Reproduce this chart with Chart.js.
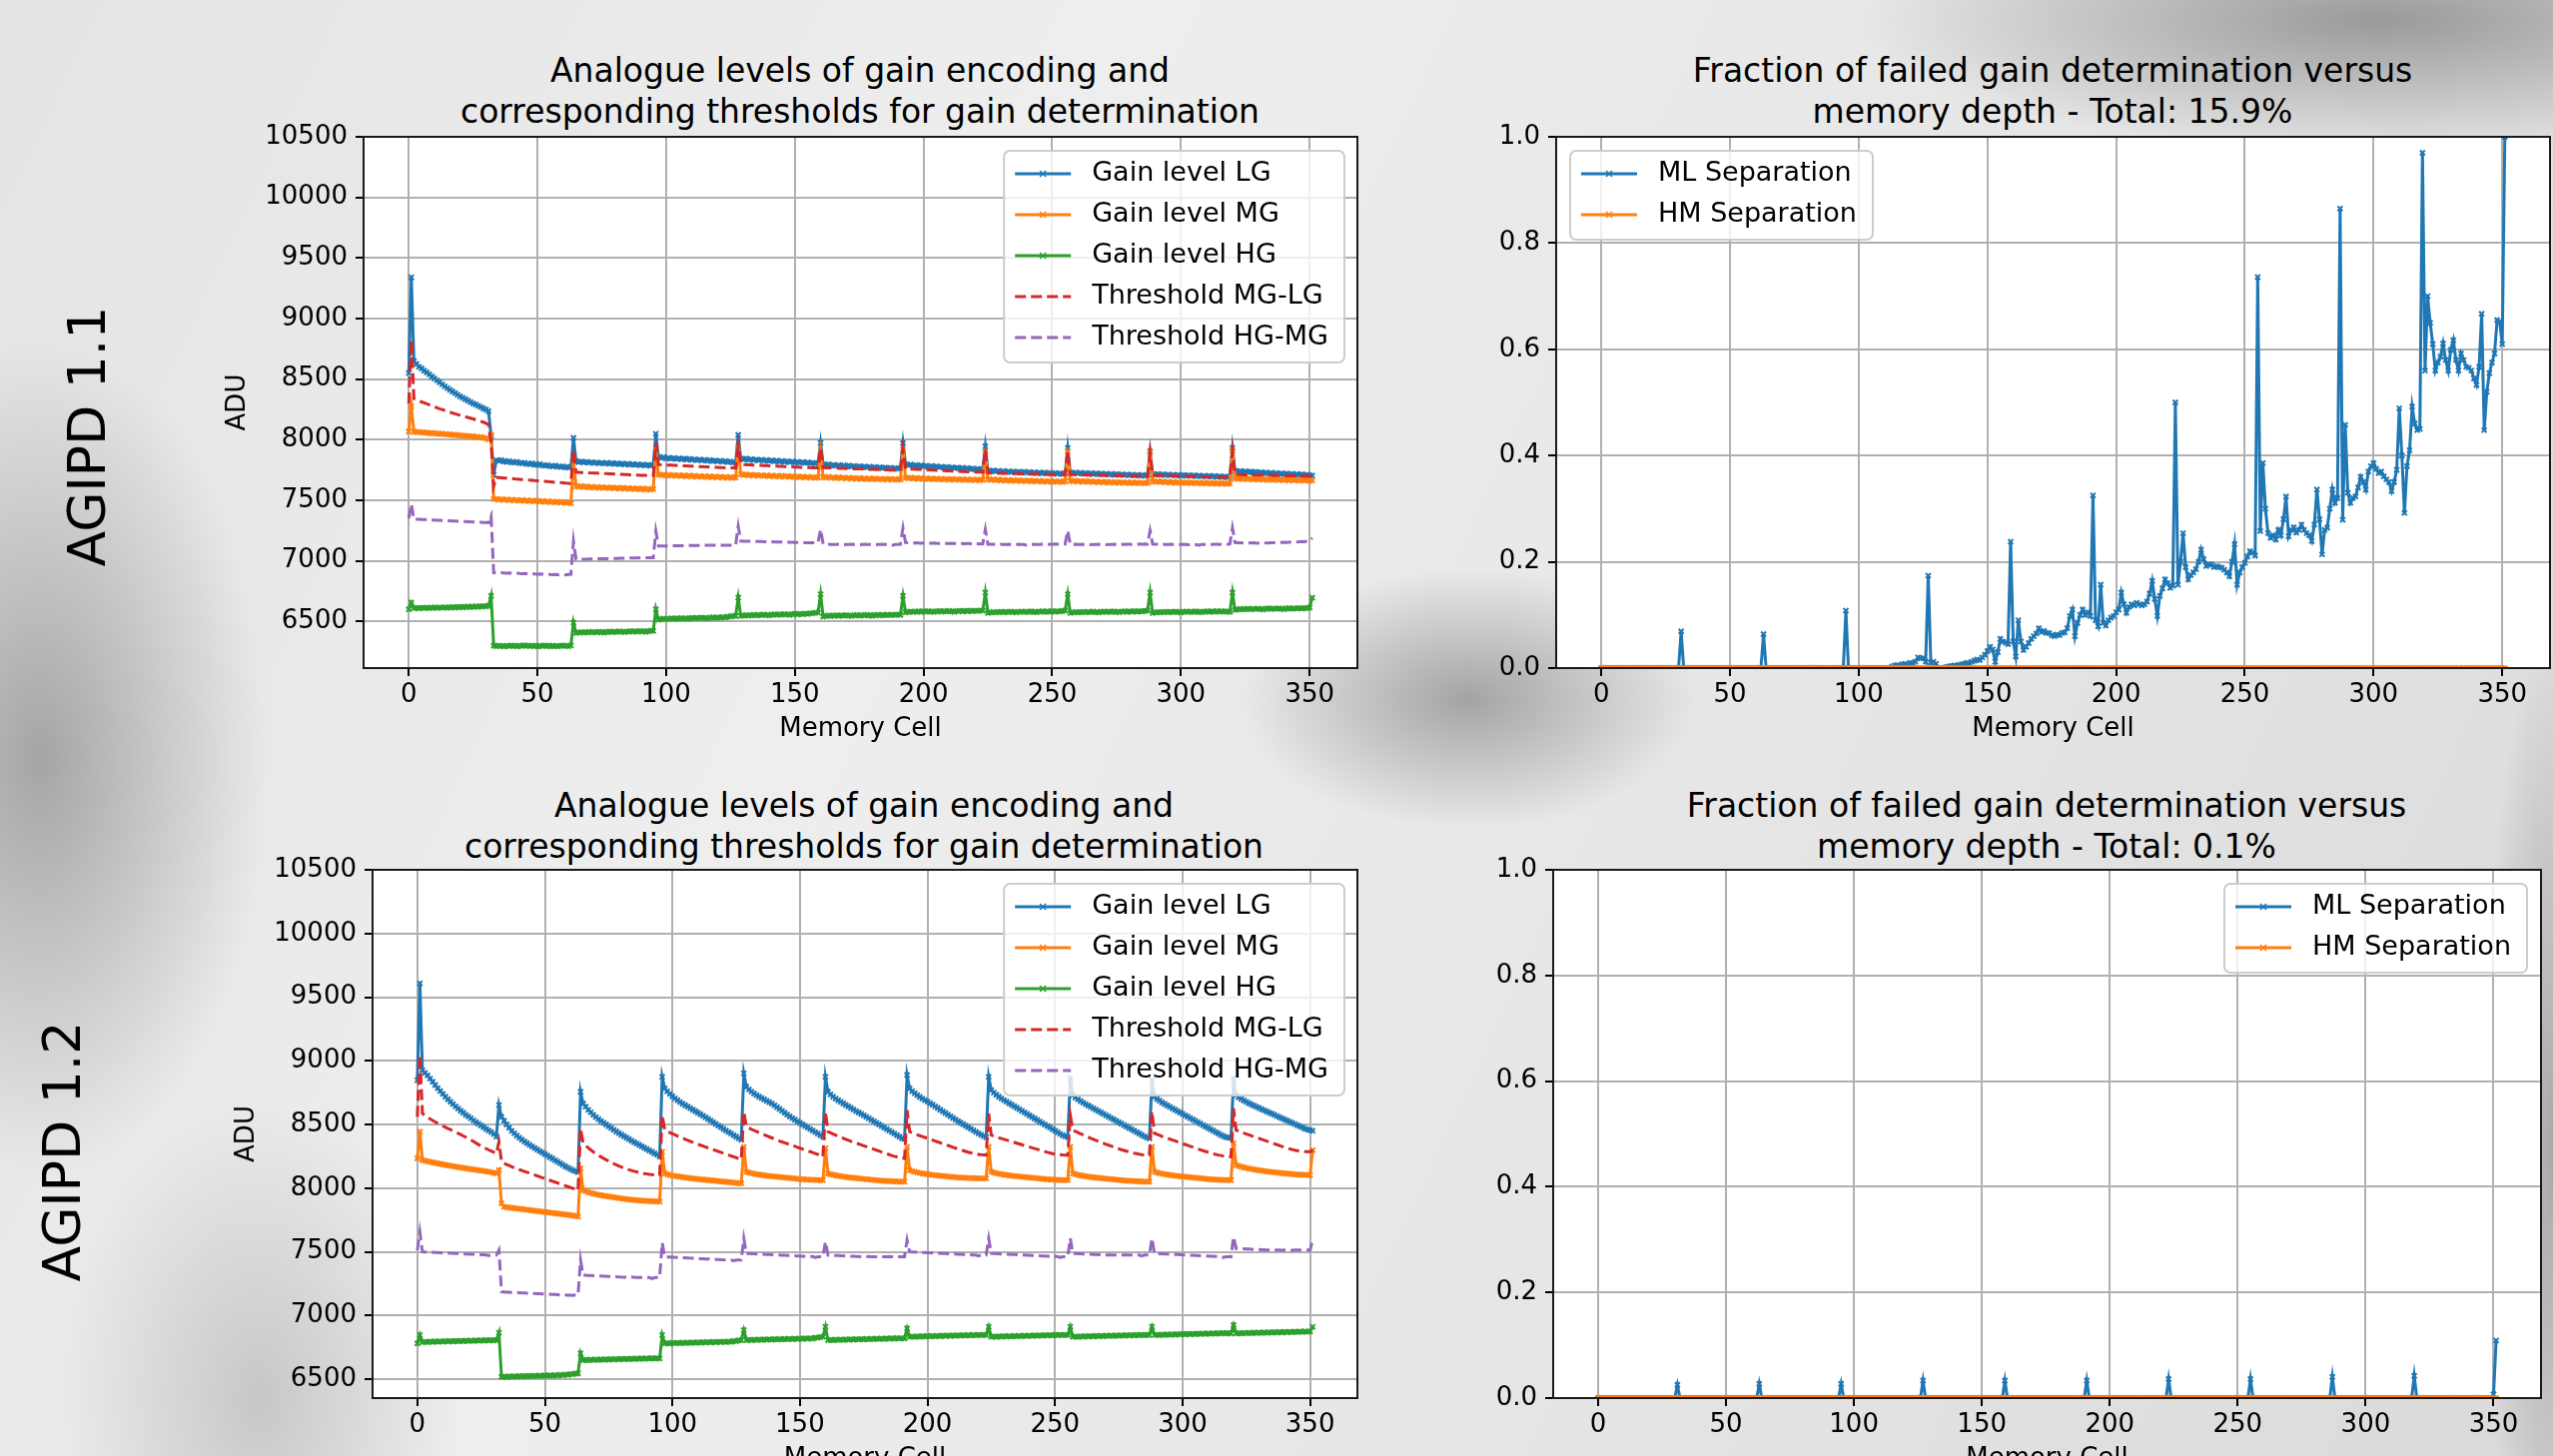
<!DOCTYPE html>
<html>
<head>
<meta charset="utf-8">
<script src="https://cdn.jsdelivr.net/npm/chart.js@4.4.1/dist/chart.umd.min.js"></script>
<style>
  html, body { margin: 0; padding: 0; }
  body {
    width: 2556px; height: 1458px; overflow: hidden; position: relative;
    font-family: "DejaVu Sans", "Noto Sans", sans-serif; color: #000;
    background:
      radial-gradient(ellipse 230px 420px at 40px 760px, rgba(110,110,110,0.55), rgba(110,110,110,0) 100%),
      radial-gradient(ellipse 520px 130px at 2380px 20px, rgba(105,105,105,0.6), rgba(105,105,105,0) 100%),
      radial-gradient(ellipse 230px 130px at 1470px 700px, rgba(95,95,95,0.5), rgba(95,95,95,0) 100%),
      radial-gradient(ellipse 70px 520px at 2556px 1150px, rgba(120,120,120,0.5), rgba(120,120,120,0) 100%),
      radial-gradient(ellipse 200px 300px at 260px 1400px, rgba(130,130,130,0.35), rgba(130,130,130,0) 100%),
      linear-gradient(115deg, #e4e4e4 0%, #eeeeee 35%, #e6e6e6 65%, #dadada 100%);
  }
  .title { position: absolute; font-size: 33px; line-height: 41px; text-align: center;
           white-space: nowrap; transform: translateX(-50%); }
  .side { position: absolute; font-size: 52px; line-height: 1; white-space: nowrap;
          transform: translate(-50%, -50%) rotate(-90deg); }
  canvas { position: absolute; }
</style>
</head>
<body>
<div class="title" style="left:861px; top:50px">Analogue levels of gain encoding and<br>corresponding thresholds for gain determination</div>
<div class="title" style="left:2055px; top:50px">Fraction of failed gain determination versus<br>memory depth - Total: 15.9%</div>
<div class="title" style="left:865px; top:786px">Analogue levels of gain encoding and<br>corresponding thresholds for gain determination</div>
<div class="title" style="left:2049px; top:786px">Fraction of failed gain determination versus<br>memory depth - Total: 0.1%</div>
<div class="side" style="left:87px; top:437px">AGIPD 1.1</div>
<div class="side" style="left:62px; top:1153px">AGIPD 1.2</div>

<script>
// memory cell index (x axis)
const memoryCells = Array.from({ length: 352 }, (_, i) => i);
const xTicks = [0, 50, 100, 150, 200, 250, 300, 350];
const aduTicks = [6500, 7000, 7500, 8000, 8500, 9000, 9500, 10000, 10500];
const fracTicks = [0.0, 0.2, 0.4, 0.6, 0.8, 1.0];

// ---- AGIPD 1.1 : analogue levels (ADU), one line per 32 cells ----
const lgTop = [
8550,9340,8650,8625,8602,8588,8570,8556,8540,8522,8506,8490,8474,8457,8441,8426,8412,8399,8385,8371,8357,8346,8335,8322,8311,8300,8290,8280,8270,8259,8248,8236,
8030,7710,7830,7826,7833,7822,7818,7825,7814,7812,7819,7808,7805,7811,7801,7798,7805,7795,7792,7799,7788,7786,7791,7782,7780,7787,7777,7775,7781,7772,7771,7777,
8015,7822,7816,7821,7812,7818,7811,7815,7808,7813,7806,7811,7804,7809,7802,7807,7800,7805,7798,7803,7796,7801,7795,7799,7792,7797,7790,7795,7788,7793,7787,7792,
8050,7856,7850,7858,7846,7852,7844,7849,7841,7847,7838,7845,7836,7842,7834,7839,7831,7837,7829,7834,7826,7832,7824,7829,7821,7827,7819,7824,7816,7821,7813,7810,
8040,7842,7838,7845,7834,7840,7832,7837,7829,7835,7827,7832,7825,7830,7822,7828,7820,7825,7818,7823,7815,7821,7813,7818,7811,7816,7809,7814,7806,7811,7804,7806,
7975,7795,7791,7797,7788,7793,7786,7791,7784,7789,7781,7787,7779,7784,7777,7782,7775,7780,7772,7778,7770,7775,7768,7773,7766,7771,7764,7769,7762,7767,7760,7765,
7973,7795,7790,7796,7786,7792,7784,7789,7781,7786,7778,7784,7775,7781,7773,7778,7770,7776,7768,7773,7765,7771,7763,7768,7760,7766,7758,7763,7755,7761,7753,7756,
7946,7745,7741,7747,7738,7744,7736,7742,7734,7740,7732,7738,7731,7736,7729,7735,7728,7733,7726,7732,7725,7730,7723,7729,7722,7727,7720,7726,7719,7724,7717,7722,
7932,7728,7724,7730,7722,7727,7720,7726,7719,7724,7717,7723,7716,7721,7714,7720,7713,7718,7711,7717,7710,7715,7708,7714,7707,7712,7705,7711,7704,7709,7702,7707,
7904,7716,7712,7718,7710,7715,7708,7714,7707,7712,7705,7711,7704,7709,7702,7708,7701,7706,7699,7705,7698,7703,7696,7702,7695,7700,7693,7699,7692,7697,7690,7695,
7932,7742,7737,7743,7734,7740,7732,7737,7729,7735,7727,7732,7725,7730,7722,7728,7720,7725,7718,7723,7716,7721,7714,7719,7712,7717,7710,7715,7708,7712,7706,7704
];
const mgTop = [
8069,8275,8065,8063,8066,8060,8058,8061,8055,8053,8056,8050,8048,8051,8045,8043,8046,8040,8038,8041,8034,8032,8035,8029,8027,8030,8023,8021,8024,8017,8012,8002,
8041,7510,7512,7505,7510,7503,7508,7501,7506,7499,7504,7497,7502,7495,7500,7493,7498,7491,7496,7489,7494,7487,7492,7485,7490,7483,7488,7481,7486,7479,7484,7475,
7836,7616,7612,7618,7609,7615,7607,7612,7605,7611,7603,7609,7602,7607,7600,7606,7599,7604,7597,7603,7596,7601,7594,7600,7593,7598,7591,7597,7590,7595,7588,7594,
7918,7712,7708,7714,7705,7711,7703,7709,7702,7707,7700,7706,7698,7704,7697,7702,7695,7701,7694,7699,7692,7698,7691,7696,7689,7695,7688,7693,7686,7692,7685,7688,
7932,7714,7709,7715,7706,7712,7704,7710,7703,7708,7701,7707,7699,7705,7698,7703,7696,7702,7695,7700,7693,7699,7692,7697,7690,7696,7689,7694,7687,7693,7686,7688,
7890,7692,7688,7694,7686,7691,7684,7690,7683,7688,7681,7687,7680,7685,7678,7684,7677,7682,7676,7681,7675,7680,7674,7679,7673,7678,7672,7677,7671,7676,7670,7672,
7918,7686,7682,7688,7680,7685,7678,7684,7677,7682,7675,7681,7674,7679,7673,7678,7672,7677,7671,7676,7670,7675,7669,7674,7668,7673,7667,7672,7666,7671,7665,7669,
7904,7672,7668,7674,7666,7671,7664,7670,7663,7668,7661,7667,7660,7665,7659,7664,7658,7663,7657,7662,7656,7661,7655,7660,7654,7659,7653,7658,7652,7657,7651,7656,
7904,7661,7657,7663,7655,7660,7653,7659,7652,7657,7650,7656,7649,7654,7648,7653,7647,7652,7646,7651,7645,7650,7644,7649,7643,7648,7642,7647,7641,7646,7640,7645,
7900,7656,7652,7658,7650,7655,7648,7654,7647,7652,7645,7651,7644,7649,7643,7648,7642,7647,7641,7646,7640,7645,7639,7644,7638,7643,7637,7642,7636,7641,7635,7640,
7910,7682,7678,7684,7676,7681,7674,7680,7673,7678,7671,7677,7670,7675,7669,7674,7668,7673,7667,7672,7666,7671,7665,7670,7664,7669,7663,7668,7662,7667,7661,7665
];
const hgTop = [
6601,6656,6610,6612,6608,6614,6611,6615,6610,6613,6617,6612,6616,6614,6618,6613,6617,6620,6615,6619,6622,6617,6621,6624,6619,6623,6626,6621,6625,6628,6624,6629,
6711,6300,6296,6302,6298,6294,6300,6297,6303,6299,6295,6301,6298,6304,6300,6296,6302,6299,6295,6301,6297,6303,6299,6295,6301,6298,6294,6300,6303,6299,6296,6302,
6492,6405,6410,6413,6408,6412,6415,6410,6414,6411,6416,6413,6409,6415,6418,6413,6417,6414,6419,6416,6412,6418,6421,6416,6420,6417,6422,6419,6415,6421,6424,6423,
6601,6515,6520,6524,6519,6523,6527,6522,6526,6524,6529,6525,6521,6528,6531,6526,6530,6528,6533,6529,6525,6532,6535,6530,6534,6532,6537,6533,6540,6542,6545,6547,
6697,6545,6550,6553,6548,6552,6556,6551,6555,6553,6558,6554,6550,6557,6560,6555,6559,6557,6562,6558,6554,6561,6564,6559,6563,6561,6566,6562,6568,6570,6572,6574,
6725,6540,6547,6550,6545,6549,6552,6547,6551,6549,6553,6549,6545,6552,6554,6549,6553,6551,6555,6551,6547,6554,6556,6551,6555,6553,6557,6553,6556,6555,6558,6555,
6711,6575,6580,6583,6578,6582,6585,6580,6584,6582,6586,6582,6578,6585,6587,6582,6586,6584,6588,6584,6580,6587,6589,6584,6588,6586,6590,6586,6589,6588,6591,6590,
6739,6570,6576,6579,6574,6578,6581,6576,6580,6578,6582,6578,6574,6581,6583,6578,6582,6580,6584,6580,6576,6583,6585,6580,6584,6582,6586,6582,6585,6584,6588,6590,
6725,6570,6576,6579,6574,6578,6581,6576,6580,6578,6582,6578,6574,6581,6583,6578,6582,6580,6584,6580,6576,6583,6585,6580,6584,6582,6586,6582,6585,6584,6588,6590,
6739,6570,6576,6579,6574,6578,6581,6576,6580,6578,6582,6578,6574,6581,6583,6578,6582,6580,6584,6580,6576,6583,6585,6580,6584,6582,6586,6582,6585,6584,6582,6580,
6739,6595,6601,6604,6599,6603,6606,6601,6605,6603,6607,6603,6599,6606,6608,6603,6607,6605,6609,6605,6601,6608,6610,6605,6609,6607,6611,6607,6610,6612,6615,6697
];
const thrMgLgTop = [
8300,8820,8340,8330,8322,8312,8305,8296,8288,8280,8272,8264,8256,8249,8242,8235,8228,8221,8214,8208,8202,8196,8190,8184,8178,8172,8166,8160,8152,8145,8136,8125,
7983,7616,7690,7688,7686,7684,7683,7681,7679,7677,7676,7674,7672,7670,7669,7667,7665,7663,7662,7660,7658,7656,7655,7653,7651,7649,7648,7646,7644,7642,7641,7639,
7918,7732,7731,7730,7729,7728,7727,7726,7725,7724,7723,7722,7721,7720,7719,7718,7717,7716,7715,7714,7713,7712,7711,7710,7709,7708,7707,7706,7706,7705,7705,7704,
7973,7795,7794,7793,7792,7791,7790,7789,7788,7787,7786,7785,7784,7783,7782,7781,7780,7779,7778,7777,7776,7775,7774,7773,7772,7771,7770,7769,7769,7768,7768,7767,
7946,7796,7795,7794,7793,7792,7791,7790,7789,7788,7787,7786,7785,7784,7783,7782,7781,7780,7779,7778,7777,7776,7775,7774,7773,7772,7771,7770,7770,7769,7769,7768,
7932,7770,7769,7768,7768,7767,7766,7765,7765,7764,7763,7762,7762,7761,7760,7759,7759,7758,7757,7756,7756,7755,7754,7753,7753,7752,7751,7750,7750,7749,7749,7748,
7930,7760,7759,7758,7757,7756,7755,7754,7753,7752,7751,7750,7749,7748,7747,7746,7745,7744,7743,7742,7741,7740,7739,7738,7737,7736,7735,7734,7734,7733,7733,7732,
7920,7726,7725,7725,7724,7724,7723,7723,7722,7722,7721,7721,7720,7720,7719,7719,7718,7718,7717,7717,7716,7716,7715,7715,7714,7714,7713,7713,7713,7712,7712,7712,
7910,7713,7712,7712,7711,7711,7710,7710,7709,7709,7708,7708,7707,7707,7706,7706,7705,7705,7704,7704,7703,7703,7702,7702,7701,7701,7700,7700,7700,7699,7699,7699,
7890,7706,7705,7705,7704,7704,7703,7703,7702,7702,7701,7701,7700,7700,7699,7699,7698,7698,7697,7697,7696,7696,7695,7695,7694,7694,7693,7693,7693,7692,7692,7692,
7905,7713,7712,7712,7711,7711,7710,7710,7709,7709,7708,7708,7707,7707,7706,7706,7705,7705,7704,7704,7703,7703,7702,7702,7701,7701,7700,7700,7700,7699,7699,7699
];
const thrHgMgTop = [
7350,7470,7345,7344,7343,7342,7341,7340,7339,7338,7337,7336,7335,7334,7333,7332,7331,7330,7329,7328,7327,7326,7325,7324,7323,7322,7321,7320,7319,7318,7317,7315,
7370,6903,6902,6901,6903,6900,6899,6901,6898,6897,6899,6896,6895,6897,6894,6893,6895,6892,6891,6893,6890,6889,6891,6888,6887,6889,6886,6885,6887,6884,6888,6890,
7164,7013,7014,7014,7015,7015,7016,7016,7017,7017,7018,7018,7019,7019,7020,7020,7021,7021,7022,7022,7023,7023,7024,7024,7025,7025,7026,7026,7027,7027,7027,7027,
7246,7123,7123,7124,7124,7124,7125,7125,7125,7126,7126,7126,7127,7127,7127,7128,7128,7128,7129,7129,7129,7130,7130,7130,7130,7130,7130,7130,7130,7130,7130,7130,
7287,7164,7163,7163,7162,7162,7161,7161,7160,7160,7159,7159,7158,7158,7157,7157,7156,7156,7155,7155,7154,7154,7153,7153,7152,7152,7151,7151,7150,7150,7150,7150,
7260,7140,7138,7137,7136,7135,7136,7137,7136,7134,7135,7136,7137,7136,7135,7134,7136,7137,7136,7135,7136,7134,7135,7136,7137,7136,7135,7136,7130,7135,7136,7137,
7273,7152,7150,7149,7148,7150,7149,7147,7148,7149,7146,7147,7148,7146,7145,7147,7146,7144,7145,7146,7144,7143,7145,7144,7142,7143,7144,7135,7142,7141,7140,7142,
7260,7138,7137,7138,7136,7137,7138,7136,7135,7137,7136,7134,7135,7137,7136,7135,7130,7134,7136,7137,7136,7135,7137,7138,7136,7137,7138,7139,7138,7140,7139,7140,
7250,7138,7136,7137,7135,7136,7137,7135,7136,7134,7135,7136,7137,7135,7136,7134,7135,7136,7137,7136,7135,7137,7136,7138,7137,7136,7138,7137,7139,7138,7140,7139,
7250,7139,7137,7138,7136,7137,7135,7136,7137,7135,7134,7136,7135,7137,7136,7134,7135,7136,7134,7130,7135,7136,7137,7135,7136,7138,7137,7136,7138,7139,7138,7140,
7273,7152,7150,7151,7149,7150,7148,7149,7150,7148,7147,7149,7150,7148,7149,7151,7150,7152,7151,7153,7154,7152,7155,7156,7155,7157,7158,7160,7159,7162,7164,7190
];

// ---- AGIPD 1.2 : analogue levels (ADU) ----
const lgBot = [
8848,9608,8925,8905,8885,8860,8835,8810,8785,8762,8740,8718,8698,8678,8660,8642,8625,8608,8592,8576,8562,8548,8532,8518,8505,8492,8478,8465,8452,8440,8425,8405,
8652,8560,8530,8500,8474,8450,8430,8412,8395,8380,8366,8353,8340,8327,8315,8303,8291,8279,8267,8255,8243,8231,8219,8207,8195,8183,8171,8160,8150,8140,8132,8125,
8757,8665,8640,8615,8595,8576,8558,8542,8527,8513,8500,8486,8472,8458,8445,8432,8420,8408,8396,8384,8372,8361,8350,8339,8328,8317,8306,8295,8284,8273,8262,8250,
8874,8783,8760,8740,8722,8705,8690,8676,8663,8651,8640,8628,8616,8604,8592,8580,8568,8556,8543,8530,8517,8504,8491,8478,8465,8452,8440,8428,8416,8404,8392,8380,
8901,8796,8775,8758,8743,8730,8718,8707,8696,8685,8675,8664,8650,8636,8622,8607,8592,8577,8563,8550,8537,8524,8512,8500,8488,8476,8464,8452,8440,8428,8416,8404,
8874,8757,8735,8718,8703,8690,8677,8665,8653,8641,8629,8617,8605,8594,8583,8572,8560,8548,8536,8524,8512,8500,8488,8476,8464,8452,8440,8428,8416,8404,8392,8385,
8888,8783,8762,8745,8730,8716,8703,8691,8679,8667,8655,8642,8629,8616,8603,8590,8577,8564,8551,8538,8526,8514,8502,8490,8478,8466,8454,8442,8430,8419,8409,8400,
8874,8770,8750,8733,8718,8704,8691,8679,8667,8655,8643,8631,8619,8607,8595,8583,8571,8559,8547,8535,8523,8511,8499,8487,8475,8463,8451,8439,8427,8416,8407,8400,
8861,8730,8712,8697,8684,8672,8660,8649,8638,8627,8616,8605,8594,8583,8572,8561,8550,8539,8528,8517,8506,8495,8484,8473,8462,8451,8440,8429,8418,8407,8397,8390,
8848,8717,8700,8686,8673,8661,8649,8638,8627,8616,8605,8594,8583,8572,8561,8550,8539,8528,8517,8506,8495,8484,8473,8462,8451,8440,8429,8418,8408,8400,8396,8395,
8861,8730,8714,8700,8688,8677,8667,8657,8647,8638,8629,8620,8611,8602,8593,8584,8575,8566,8557,8548,8539,8530,8521,8512,8503,8494,8485,8476,8467,8460,8455,8450
];
const mgBot = [
8233,8443,8220,8215,8210,8206,8202,8198,8194,8190,8186,8182,8178,8175,8172,8168,8165,8162,8158,8155,8152,8149,8146,8143,8140,8137,8134,8131,8128,8124,8120,8115,
8141,7880,7853,7850,7847,7845,7842,7840,7837,7835,7832,7830,7827,7825,7822,7820,7817,7815,7812,7810,7807,7805,7802,7800,7797,7795,7792,7790,7787,7784,7780,7775,
8155,7984,7975,7968,7962,7957,7952,7948,7944,7940,7937,7934,7931,7928,7925,7922,7919,7916,7913,7911,7909,7907,7905,7903,7901,7900,7899,7898,7897,7896,7895,7893,
8285,8115,8108,8103,8099,8095,8092,8089,8086,8083,8080,8077,8075,8073,8071,8069,8067,8065,8063,8061,8059,8057,8055,8053,8051,8049,8047,8045,8043,8041,8039,8037,
8325,8128,8122,8117,8113,8109,8106,8103,8100,8097,8095,8093,8091,8089,8087,8085,8083,8081,8079,8077,8075,8073,8071,8069,8068,8067,8066,8065,8064,8063,8063,8063,
8312,8115,8109,8104,8100,8096,8093,8090,8087,8084,8082,8080,8078,8076,8074,8072,8070,8068,8066,8064,8062,8060,8058,8057,8056,8055,8054,8053,8052,8051,8050,8050,
8325,8141,8134,8128,8123,8119,8115,8112,8109,8106,8103,8101,8099,8097,8095,8093,8091,8089,8087,8085,8083,8082,8081,8080,8079,8078,8078,8077,8077,8076,8076,8076,
8325,8128,8122,8117,8113,8109,8106,8103,8100,8097,8095,8093,8091,8089,8087,8085,8083,8081,8079,8077,8075,8073,8071,8069,8068,8067,8066,8065,8064,8063,8063,8063,
8325,8115,8109,8104,8100,8096,8093,8090,8087,8084,8082,8080,8078,8076,8074,8072,8070,8068,8066,8064,8062,8060,8058,8057,8056,8055,8054,8053,8052,8051,8050,8050,
8325,8128,8122,8117,8113,8109,8106,8103,8100,8097,8095,8093,8091,8089,8087,8085,8083,8081,8079,8077,8075,8073,8071,8069,8068,8067,8066,8065,8064,8063,8063,8063,
8351,8181,8174,8168,8163,8158,8154,8150,8146,8143,8140,8137,8134,8131,8128,8126,8124,8122,8120,8118,8116,8114,8112,8110,8108,8107,8106,8105,8104,8103,8102,8298
];
const hgBot = [
6780,6846,6790,6793,6790,6795,6792,6796,6793,6797,6794,6798,6795,6799,6796,6800,6797,6801,6798,6802,6799,6803,6800,6804,6801,6805,6802,6806,6803,6807,6804,6806,
6864,6518,6520,6516,6522,6519,6523,6520,6524,6521,6525,6522,6526,6523,6527,6524,6528,6525,6529,6526,6530,6527,6531,6528,6533,6530,6536,6533,6540,6538,6543,6545,
6702,6649,6651,6648,6653,6650,6654,6651,6655,6652,6656,6653,6657,6654,6658,6655,6659,6656,6660,6657,6661,6658,6662,6659,6663,6660,6664,6661,6665,6662,6663,6662,
6846,6780,6782,6779,6784,6781,6785,6782,6786,6783,6787,6784,6788,6785,6789,6786,6790,6787,6791,6788,6792,6789,6793,6790,6794,6791,6795,6792,6800,6798,6804,6806,
6885,6806,6808,6805,6810,6807,6811,6808,6812,6809,6813,6810,6814,6811,6815,6812,6816,6813,6817,6814,6818,6815,6819,6816,6820,6817,6821,6818,6826,6824,6830,6832,
6911,6806,6808,6805,6810,6807,6811,6808,6812,6809,6813,6810,6814,6811,6815,6812,6816,6813,6817,6814,6818,6815,6819,6816,6820,6817,6821,6818,6822,6819,6821,6820,
6898,6832,6834,6831,6836,6833,6837,6834,6838,6835,6839,6836,6840,6837,6841,6838,6842,6839,6843,6840,6844,6841,6845,6842,6846,6843,6847,6844,6848,6845,6847,6846,
6911,6832,6834,6831,6836,6833,6837,6834,6838,6835,6839,6836,6840,6837,6841,6838,6842,6839,6843,6840,6844,6841,6845,6842,6846,6843,6847,6844,6848,6845,6847,6846,
6911,6832,6834,6831,6836,6833,6837,6834,6838,6835,6839,6836,6840,6837,6841,6838,6842,6839,6843,6840,6844,6841,6845,6842,6846,6843,6847,6844,6848,6845,6847,6846,
6911,6846,6848,6845,6850,6847,6851,6848,6852,6849,6853,6850,6854,6851,6855,6852,6856,6853,6857,6854,6858,6855,6859,6856,6860,6857,6861,6858,6862,6859,6861,6859,
6924,6859,6861,6858,6863,6860,6864,6861,6865,6862,6866,6863,6867,6864,6868,6865,6869,6866,6870,6867,6871,6868,6872,6869,6873,6870,6874,6871,6875,6872,6874,6911
];
const thrMgLgBot = [
8560,9045,8586,8570,8556,8543,8531,8520,8509,8498,8488,8478,8468,8459,8450,8441,8430,8420,8410,8400,8390,8378,8366,8354,8342,8331,8320,8310,8300,8291,8282,8272,
8364,8207,8196,8186,8177,8168,8160,8152,8145,8138,8131,8124,8117,8110,8103,8096,8089,8082,8075,8068,8061,8054,8047,8040,8033,8026,8019,8012,8005,7998,7991,7984,
8469,8351,8333,8316,8300,8285,8271,8258,8246,8234,8223,8212,8202,8192,8183,8174,8166,8158,8151,8144,8138,8132,8127,8122,8118,8114,8111,8108,8106,8104,8103,8102,
8573,8456,8446,8436,8427,8418,8409,8400,8392,8384,8376,8368,8360,8352,8344,8337,8330,8323,8316,8309,8302,8295,8288,8281,8274,8267,8260,8253,8246,8239,8232,8225,
8600,8482,8472,8462,8453,8444,8435,8426,8418,8410,8402,8394,8386,8378,8370,8363,8356,8349,8342,8335,8328,8321,8314,8307,8300,8293,8286,8279,8272,8265,8256,8246,
8600,8443,8434,8425,8416,8408,8400,8392,8384,8376,8368,8361,8354,8347,8340,8333,8326,8319,8312,8305,8298,8291,8284,8277,8270,8263,8256,8250,8245,8240,8236,8233,
8613,8443,8435,8427,8419,8412,8405,8398,8391,8384,8377,8370,8363,8356,8349,8342,8335,8328,8321,8314,8307,8300,8294,8288,8282,8277,8272,8268,8265,8262,8260,8259,
8586,8416,8409,8402,8395,8389,8383,8377,8371,8365,8359,8353,8347,8341,8335,8329,8323,8317,8311,8305,8299,8293,8287,8281,8276,8271,8267,8264,8262,8260,8259,8259,
8573,8456,8446,8436,8427,8418,8409,8400,8392,8384,8376,8368,8360,8352,8344,8337,8330,8323,8316,8309,8302,8296,8290,8284,8279,8274,8270,8266,8263,8261,8260,8259,
8600,8430,8422,8414,8406,8399,8392,8385,8378,8371,8364,8357,8350,8343,8336,8329,8322,8315,8308,8301,8294,8288,8282,8276,8270,8265,8260,8256,8252,8249,8247,8246,
8626,8456,8448,8440,8432,8425,8418,8411,8404,8397,8390,8383,8376,8369,8362,8355,8348,8341,8334,8327,8320,8314,8308,8303,8298,8294,8291,8289,8287,8286,8285,8300
];
const thrHgMgBot = [
7513,7657,7500,7499,7498,7497,7496,7495,7494,7493,7492,7491,7490,7489,7488,7487,7486,7485,7484,7483,7482,7481,7480,7479,7478,7477,7476,7475,7470,7474,7474,7474,
7513,7186,7184,7182,7183,7181,7179,7180,7178,7176,7177,7175,7173,7174,7172,7170,7171,7169,7167,7168,7166,7164,7165,7163,7161,7162,7160,7158,7159,7157,7160,7160,
7435,7317,7315,7314,7313,7312,7311,7310,7309,7308,7307,7306,7305,7304,7303,7302,7301,7300,7299,7300,7301,7300,7299,7298,7299,7300,7299,7298,7290,7297,7298,7298,
7571,7461,7459,7458,7457,7456,7455,7454,7453,7452,7451,7450,7449,7448,7447,7446,7445,7444,7443,7442,7441,7440,7439,7438,7437,7436,7435,7435,7430,7435,7435,7435,
7605,7487,7486,7485,7484,7483,7482,7481,7480,7479,7478,7477,7476,7475,7474,7473,7472,7471,7470,7469,7468,7467,7466,7465,7464,7463,7462,7462,7455,7461,7461,7461,
7579,7474,7473,7472,7471,7470,7469,7468,7467,7466,7465,7464,7463,7462,7461,7462,7463,7462,7461,7460,7461,7462,7461,7460,7461,7462,7461,7460,7455,7460,7461,7461,
7592,7500,7499,7498,7497,7496,7495,7494,7493,7492,7491,7490,7489,7488,7487,7486,7485,7484,7483,7482,7481,7480,7479,7478,7477,7476,7475,7474,7468,7474,7474,7474,
7605,7487,7486,7485,7484,7483,7482,7481,7480,7479,7478,7477,7476,7475,7474,7473,7472,7471,7470,7469,7468,7467,7466,7465,7464,7463,7462,7462,7455,7461,7461,7461,
7605,7487,7486,7485,7484,7483,7482,7481,7480,7479,7478,7477,7476,7476,7475,7475,7474,7474,7474,7474,7474,7474,7474,7474,7474,7474,7474,7474,7468,7474,7474,7474,
7605,7487,7486,7485,7484,7483,7482,7481,7480,7479,7478,7477,7476,7475,7474,7473,7472,7471,7470,7469,7468,7467,7466,7465,7464,7463,7462,7462,7455,7461,7461,7461,
7618,7526,7525,7524,7523,7522,7521,7520,7519,7518,7517,7516,7515,7514,7513,7512,7513,7514,7513,7512,7513,7514,7513,7512,7513,7514,7513,7512,7513,7514,7513,7592
];

// ---- fraction of failed gain determination ----
const mlSepTop = [
0,0,0,0,0,0,0,0, 0,0,0,0,0,0,0,0, 0,0,0,0,0,0,0,0, 0,0,0,0,0,0,0, 0.069,
0,0,0,0,0,0,0,0, 0,0,0,0,0,0,0,0, 0,0,0,0,0,0,0,0, 0,0,0,0,0,0,0, 0.064,
0,0,0,0,0,0,0,0, 0,0,0,0,0,0,0,0, 0,0,0,0,0,0,0,0, 0,0,0,0,0,0,0, 0.108,
0,0,0,0,0,0,0,0, 0,0,0,0,0,0,0,0, 0, 0.003,0.005,0.006,0.004,0.007,0.008,0.006,0.01,0.009,0.012,0.02,0.018,0.019,0.012,0.174,
0.01,0.012,0.008,0,0,0,0.002,0.003,0.004,0.005,0.004,0.006,0.007,0.008,0.01,0.009,0.012,0.014,0.016,0.015,0.02,0.025,0.032,0.04,0.035,0.012,0.03,0.055,0.05,0.048,0.045,0.238,
0.05,0.022,0.09,0.05,0.034,0.04,0.047,0.055,0.06,0.065,0.075,0.068,0.07,0.066,0.066,0.062,0.06,0.063,0.062,0.066,0.067,0.075,0.098,0.11,0.06,0.085,0.1,0.11,0.1,0.105,0.098,0.325,
0.09,0.079,0.157,0.085,0.08,0.09,0.095,0.098,0.105,0.11,0.142,0.12,0.104,0.115,0.12,0.118,0.123,0.12,0.118,0.12,0.125,0.14,0.164,0.13,0.098,0.136,0.15,0.167,0.16,0.151,0.155,0.5,
0.157,0.2,0.254,0.19,0.167,0.175,0.18,0.186,0.2,0.223,0.205,0.192,0.195,0.195,0.19,0.192,0.19,0.189,0.185,0.18,0.173,0.2,0.233,0.157,0.18,0.19,0.198,0.21,0.22,0.217,0.212,0.736,
0.258,0.386,0.3,0.254,0.245,0.25,0.242,0.26,0.25,0.28,0.323,0.248,0.26,0.265,0.255,0.26,0.27,0.26,0.254,0.25,0.239,0.27,0.336,0.28,0.214,0.26,0.264,0.3,0.336,0.311,0.32,0.865,
0.279,0.458,0.33,0.311,0.32,0.323,0.34,0.36,0.35,0.336,0.37,0.38,0.386,0.375,0.367,0.37,0.361,0.355,0.35,0.333,0.35,0.373,0.489,0.4,0.292,0.38,0.41,0.492,0.46,0.448,0.45,0.97,
0.56,0.7,0.65,0.61,0.56,0.575,0.586,0.611,0.58,0.56,0.599,0.617,0.58,0.56,0.592,0.58,0.567,0.565,0.56,0.545,0.533,0.567,0.667,0.448,0.52,0.555,0.575,0.592,0.655,0.652,0.61,1.0
];
const hmSepTop = [
0,0,0,0,0,0,0,0, 0,0,0,0,0,0,0,0, 0,0,0,0,0,0,0,0, 0,0,0,0,0,0,0,0,
0,0,0,0,0,0,0,0, 0,0,0,0,0,0,0,0, 0,0,0,0,0,0,0,0, 0,0,0,0,0,0,0,0,
0,0,0,0,0,0,0,0, 0,0,0,0,0,0,0,0, 0,0,0,0,0,0,0,0, 0,0,0,0,0,0,0,0,
0,0,0,0,0,0,0,0, 0,0,0,0,0,0,0,0, 0,0,0,0,0,0,0,0, 0,0,0,0,0,0,0,0,
0,0,0,0,0,0,0,0, 0,0,0,0,0,0,0,0, 0,0,0,0,0,0,0,0, 0,0,0,0,0,0,0,0,
0,0,0,0,0,0,0,0, 0,0,0,0,0,0,0,0, 0,0,0,0,0,0,0,0, 0,0,0,0,0,0,0,0,
0,0,0,0,0,0,0,0, 0,0,0,0,0,0,0,0, 0,0,0,0,0,0,0,0, 0,0,0,0,0,0,0,0,
0,0,0,0,0,0,0,0, 0,0,0,0,0,0,0,0, 0,0,0,0,0,0,0,0, 0,0,0,0,0,0,0,0,
0,0,0,0,0,0,0,0, 0,0,0,0,0,0,0,0, 0,0,0,0,0,0,0,0, 0,0,0,0,0,0,0,0,
0,0,0,0,0,0,0,0, 0,0,0,0,0,0,0,0, 0,0,0,0,0,0,0,0, 0,0,0,0,0,0,0,0,
0,0,0,0,0,0,0,0, 0,0,0,0,0,0,0,0, 0,0,0,0,0,0,0,0, 0,0,0,0,0,0,0,0
];
const mlSepBot = [
0,0,0,0,0,0,0,0, 0,0,0,0,0,0,0,0, 0,0,0,0,0,0,0,0, 0,0,0,0,0,0,0, 0.025,
0,0,0,0,0,0,0,0, 0,0,0,0,0,0,0,0, 0,0,0,0,0,0,0,0, 0,0,0,0,0,0,0, 0.027,
0,0,0,0,0,0,0,0, 0,0,0,0,0,0,0,0, 0,0,0,0,0,0,0,0, 0,0,0,0,0,0,0, 0.027,
0,0,0,0,0,0,0,0, 0,0,0,0,0,0,0,0, 0,0,0,0,0,0,0,0, 0,0,0,0,0,0,0, 0.033,
0,0,0,0,0,0,0,0, 0,0,0,0,0,0,0,0, 0,0,0,0,0,0,0,0, 0,0,0,0,0,0,0, 0.033,
0,0,0,0,0,0,0,0, 0,0,0,0,0,0,0,0, 0,0,0,0,0,0,0,0, 0,0,0,0,0,0,0, 0.033,
0,0,0,0,0,0,0,0, 0,0,0,0,0,0,0,0, 0,0,0,0,0,0,0,0, 0,0,0,0,0,0,0, 0.036,
0,0,0,0,0,0,0,0, 0,0,0,0,0,0,0,0, 0,0,0,0,0,0,0,0, 0,0,0,0,0,0,0, 0.036,
0,0,0,0,0,0,0,0, 0,0,0,0,0,0,0,0, 0,0,0,0,0,0,0,0, 0,0,0,0,0,0,0, 0.04,
0,0,0,0,0,0,0,0, 0,0,0,0,0,0,0,0, 0,0,0,0,0,0,0,0, 0,0,0,0,0,0,0, 0.042,
0,0,0,0,0,0,0,0, 0,0,0,0,0,0,0,0, 0,0,0,0,0,0,0,0, 0,0,0,0,0,0, 0.007,0.109
];
const hmSepBot = [
0,0,0,0,0,0,0,0, 0,0,0,0,0,0,0,0, 0,0,0,0,0,0,0,0, 0,0,0,0,0,0,0,0,
0,0,0,0,0,0,0,0, 0,0,0,0,0,0,0,0, 0,0,0,0,0,0,0,0, 0,0,0,0,0,0,0,0,
0,0,0,0,0,0,0,0, 0,0,0,0,0,0,0,0, 0,0,0,0,0,0,0,0, 0,0,0,0,0,0,0,0,
0,0,0,0,0,0,0,0, 0,0,0,0,0,0,0,0, 0,0,0,0,0,0,0,0, 0,0,0,0,0,0,0,0,
0,0,0,0,0,0,0,0, 0,0,0,0,0,0,0,0, 0,0,0,0,0,0,0,0, 0,0,0,0,0,0,0,0,
0,0,0,0,0,0,0,0, 0,0,0,0,0,0,0,0, 0,0,0,0,0,0,0,0, 0,0,0,0,0,0,0,0,
0,0,0,0,0,0,0,0, 0,0,0,0,0,0,0,0, 0,0,0,0,0,0,0,0, 0,0,0,0,0,0,0,0,
0,0,0,0,0,0,0,0, 0,0,0,0,0,0,0,0, 0,0,0,0,0,0,0,0, 0,0,0,0,0,0,0,0,
0,0,0,0,0,0,0,0, 0,0,0,0,0,0,0,0, 0,0,0,0,0,0,0,0, 0,0,0,0,0,0,0,0,
0,0,0,0,0,0,0,0, 0,0,0,0,0,0,0,0, 0,0,0,0,0,0,0,0, 0,0,0,0,0,0,0,0,
0,0,0,0,0,0,0,0, 0,0,0,0,0,0,0,0, 0,0,0,0,0,0,0,0, 0,0,0,0,0,0,0,0
];

const FONT = '"DejaVu Sans", "Noto Sans", sans-serif';
const C = { blue: '#1f77b4', orange: '#ff7f0e', green: '#2ca02c', red: '#d62728', purple: '#9467bd' };

function series(label, color, values, dashed) {
  return {
    label,
    data: values.map((v, i) => ({ x: memoryCells[i], y: v })),
    borderColor: color,
    backgroundColor: color,
    borderWidth: 3,
    borderDash: dashed ? [11, 5] : [],
    pointStyle: 'crossRot',
    pointRadius: dashed ? 0 : 3.5,
    pointBorderWidth: 2,
    pointBorderColor: color,
    pointBackgroundColor: color,
    pointHoverRadius: 0,
    tension: 0,
    fill: false
  };
}

// white axes background
const axesBg = {
  id: 'axesBg',
  beforeDraw(chart) {
    const { ctx, chartArea: a } = chart;
    ctx.save();
    ctx.fillStyle = '#ffffff';
    ctx.fillRect(a.left, a.top, a.right - a.left, a.bottom - a.top);
    ctx.restore();
  }
};

// matplotlib-like frame round the axes
const frame = {
  id: 'frame',
  afterDatasetsDraw(chart) {
    const { ctx, chartArea: a } = chart;
    ctx.save();
    ctx.strokeStyle = '#1a1a1a';
    ctx.lineWidth = 2;
    ctx.strokeRect(a.left, a.top, a.right - a.left, a.bottom - a.top);
    ctx.restore();
  }
};

// legend box inside the axes
const legendBox = {
  id: 'legendBox',
  afterDraw(chart, args, opts) {
    const { ctx, chartArea: a } = chart;
    const items = chart.data.datasets;
    ctx.save();
    ctx.font = '27px ' + FONT;
    const textW = Math.max(...items.map(d => ctx.measureText(d.label).width));
    const w = 88 + textW + 16;
    const h = 23 + 41 * (items.length - 1) + 25;
    const x = opts.side === 'left' ? a.left + opts.dx : a.right - opts.dx - w;
    const y = a.top + opts.dy;
    ctx.beginPath();
    ctx.roundRect(x, y, w, h, 6);
    ctx.fillStyle = 'rgba(255,255,255,0.8)';
    ctx.fill();
    ctx.strokeStyle = '#cccccc';
    ctx.lineWidth = 2;
    ctx.stroke();
    items.forEach((d, i) => {
      const cy = y + 23 + 41 * i;
      ctx.strokeStyle = d.borderColor;
      ctx.lineWidth = 3;
      ctx.setLineDash(d.borderDash);
      ctx.beginPath();
      ctx.moveTo(x + 11, cy);
      ctx.lineTo(x + 67, cy);
      ctx.stroke();
      ctx.setLineDash([]);
      if (d.pointRadius > 0) {
        const mx = x + 39, r = 3;
        ctx.lineWidth = 1.5;
        ctx.beginPath();
        ctx.moveTo(mx - r, cy - r); ctx.lineTo(mx + r, cy + r);
        ctx.moveTo(mx - r, cy + r); ctx.lineTo(mx + r, cy - r);
        ctx.stroke();
      }
      ctx.fillStyle = '#000';
      ctx.textBaseline = 'middle';
      ctx.textAlign = 'left';
      ctx.fillText(d.label, x + 88, cy);
    });
    ctx.restore();
  }
};

// axis titles
const axisTitles = {
  id: 'axisTitles',
  afterDraw(chart, args, opts) {
    const { ctx, chartArea: a } = chart;
    ctx.save();
    ctx.fillStyle = '#000';
    ctx.font = '26px ' + FONT;
    ctx.textAlign = 'center';
    ctx.textBaseline = 'middle';
    ctx.fillText(opts.x, (a.left + a.right) / 2, a.bottom + 61);
    if (opts.y) {
      ctx.translate(a.left - 126, (a.top + a.bottom) / 2);
      ctx.rotate(-Math.PI / 2);
      ctx.fillText(opts.y, 0, 0);
    }
    ctx.restore();
  }
};

function makePanel(p) {
  const padTop = 20, padRight = 10, xAxisH = 95;
  const cv = document.createElement('canvas');
  cv.width = p.yAxisW + p.w + padRight;
  cv.height = padTop + p.h + xAxisH;
  cv.style.left = (p.left - p.yAxisW) + 'px';
  cv.style.top = (p.top - padTop) + 'px';
  document.body.appendChild(cv);

  const sets = p.sets;
  sets.forEach((d, i) => { d.order = sets.length - i; });

  const tickFont = { family: FONT, size: 26, lineHeight: 1 };
  const grid = { color: '#b0b0b0', lineWidth: 2, tickColor: '#000', tickWidth: 2, tickLength: 8, drawTicks: true };

  new Chart(cv, {
    type: 'line',
    data: { datasets: sets },
    options: {
      responsive: false,
      animation: false,
      devicePixelRatio: 1,
      layout: { padding: { top: padTop, right: padRight, left: 0, bottom: 0 } },
      plugins: {
        legend: { display: false },
        title: { display: false },
        tooltip: { enabled: false },
        legendBox: { side: p.legendSide, dx: p.legendDx, dy: 14 },
        axisTitles: { x: 'Memory Cell', y: p.yTitle }
      },
      scales: {
        x: {
          type: 'linear', min: -17.55, max: 368.55,
          afterFit: s => { s.height = xAxisH; },
          afterBuildTicks: s => { s.ticks = xTicks.map(v => ({ value: v })); },
          ticks: { font: tickFont, color: '#000', padding: 6, maxRotation: 0, autoSkip: false, callback: v => String(v) },
          grid: grid,
          border: { display: false }
        },
        y: {
          type: 'linear', min: p.yMin, max: p.yMax,
          afterFit: s => { s.width = p.yAxisW; },
          afterBuildTicks: s => { s.ticks = p.yTicks.map(v => ({ value: v })); },
          ticks: { font: tickFont, color: '#000', padding: 8, autoSkip: false, callback: p.yFmt },
          grid: grid,
          border: { display: false }
        }
      }
    },
    plugins: [axesBg, frame, axisTitles, legendBox]
  });
}

const aduFmt = v => String(v);
const fracFmt = v => Number(v).toFixed(1);

makePanel({
  left: 364, top: 136, w: 995, h: 533, yAxisW: 145,
  yMin: 6116, yMax: 10500, yTicks: aduTicks, yFmt: aduFmt, yTitle: 'ADU',
  legendSide: 'right', legendDx: 13,
  sets: [
    series('Gain level LG', C.blue, lgTop),
    series('Gain level MG', C.orange, mgTop),
    series('Gain level HG', C.green, hgTop),
    series('Threshold MG-LG', C.red, thrMgLgTop, true),
    series('Threshold HG-MG', C.purple, thrHgMgTop, true)
  ]
});
makePanel({
  left: 1558, top: 136, w: 995, h: 533, yAxisW: 80,
  yMin: 0, yMax: 1, yTicks: fracTicks, yFmt: fracFmt, yTitle: '',
  legendSide: 'left', legendDx: 14,
  sets: [
    series('ML Separation', C.blue, mlSepTop),
    series('HM Separation', C.orange, hmSepTop)
  ]
});
makePanel({
  left: 373, top: 870, w: 986, h: 530, yAxisW: 145,
  yMin: 6351, yMax: 10500, yTicks: aduTicks, yFmt: aduFmt, yTitle: 'ADU',
  legendSide: 'right', legendDx: 13,
  sets: [
    series('Gain level LG', C.blue, lgBot),
    series('Gain level MG', C.orange, mgBot),
    series('Gain level HG', C.green, hgBot),
    series('Threshold MG-LG', C.red, thrMgLgBot, true),
    series('Threshold HG-MG', C.purple, thrHgMgBot, true)
  ]
});
makePanel({
  left: 1555, top: 870, w: 989, h: 530, yAxisW: 80,
  yMin: 0, yMax: 1, yTicks: fracTicks, yFmt: fracFmt, yTitle: '',
  legendSide: 'right', legendDx: 14,
  sets: [
    series('ML Separation', C.blue, mlSepBot),
    series('HM Separation', C.orange, hmSepBot)
  ]
});
</script>
</body>
</html>
